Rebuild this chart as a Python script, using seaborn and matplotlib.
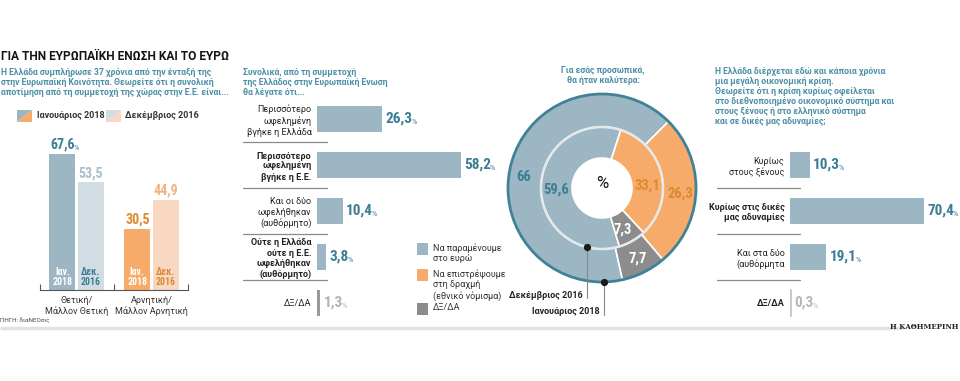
import numpy as np
import pandas as pd
import seaborn as sns
import matplotlib.pyplot as plt
from matplotlib import font_manager
from matplotlib.patches import Polygon, Rectangle, Circle

# ---- data ----
periods = ['Ιανουάριος 2018', 'Δεκέμβριος 2016']
eval_cats = ['Θετική/\nΜάλλον Θετική', 'Αρνητική/\nΜάλλον Αρνητική']
eval_jan = [67.6, 30.5]
eval_dec = [53.5, 44.9]

benefit_labels = ['Περισσότερο\nωφελημένη\nβγήκε η Ελλάδα',
                  'Περισσότερο\nωφελημένη\nβγήκε η Ε.Ε.',
                  'Και οι δύο\nωφελήθηκαν\n(αυθόρμητο)',
                  'Ούτε η Ελλάδα\nούτε η Ε.Ε.\nωφελήθηκαν\n(αυθόρμητο)',
                  'ΔΞ/ΔΑ']
benefit_vals = [26.3, 58.2, 10.4, 3.8, 1.3]
benefit_bold = [False, True, False, True, False]

donut_labels = ['Να παραμένουμε\nστο ευρώ', 'Να επιστρέψουμε\nστη δραχμή\n(εθνικό νόμισμα)', 'ΔΞ/ΔΑ']
donut_jan = [66, 26.3, 7.7]    # outer ring
donut_dec = [59.6, 33.1, 7.3]  # inner ring

crisis_labels = ['Κυρίως\nστους ξένους', 'Κυρίως στις δικές\nμας αδυναμίες',
                 'Και στα δύο\n(αυθόρμητα', 'ΔΞ/ΔΑ']
crisis_vals = [10.3, 70.4, 19.1, 0.3]
crisis_bold = [False, True, False, True]

# ---- style ----
BLUE = '#9db6c4'
BLUE_L = '#d2dce3'
ORANGE = '#f7ab6a'
ORANGE_L = '#f8d8c2'
GRAY = '#8c8c8c'
TEAL = '#3b7e94'
TEAL_T = '#4a8fa6'
ORANGE_T = '#dc8a2e'

sns.set_theme(style='white')
BODY = 'Roboto'
plt.rcParams['font.family'] = [BODY, 'DejaVu Sans']

# pick a narrow face for the numbers if one is installed
fonts = font_manager.fontManager.ttflist
names = {f.name for f in fonts}
if 'Roboto Condensed' in names:
    NUM = dict(family='Roboto Condensed')
elif 'Liberation Sans Narrow' in names:
    NUM = dict(family='Liberation Sans Narrow')
elif any(f.name == 'DejaVu Sans' and 'condensed' in str(f.stretch) for f in fonts):
    NUM = dict(family='DejaVu Sans', fontstretch='condensed')
else:
    NUM = dict(family='Roboto')

W, H = 960, 381
fig = plt.figure(figsize=(W / 100, H / 100), dpi=100)


def px_axes(x0, y0, x1, y1):
    return fig.add_axes([x0 / W, 1 - y1 / H, (x1 - x0) / W, (y1 - y0) / H])


def fmt(v):
    return f'{v:g}'.replace('.', ',')


def add_pct(ax, t, color, size=6):
    ax.annotate('%', xy=(1, 0), xycoords=t, xytext=(-0.8, 1.0), textcoords='offset points',
                ha='left', va='bottom', fontsize=size, color=color, **NUM)


# overlay for titles and decorations, in pixel coordinates
ov = fig.add_axes([0, 0, 1, 1])
ov.set_xlim(0, W)
ov.set_ylim(H, 0)
ov.axis('off')

# ---- panel 1: vertical bars ----
ov.text(1, 57, 'ΓΙΑ ΤΗΝ ΕΥΡΩΠΑΪΚΗ ΕΝΩΣΗ ΚΑΙ ΤΟ ΕΥΡΩ', fontsize=8.6, fontweight='bold',
        va='center', color='#151515')
ov.text(1, 68, 'Η Ελλάδα συμπλήρωσε 37 χρόνια από την ένταξή της\n'
               'στην Ευρωπαϊκή Κοινότητα. Θεωρείτε ότι η συνολική\n'
               'αποτίμηση από τη συμμετοχή της χώρας στην Ε.Ε. είναι...',
        fontsize=6.2, fontweight='bold', va='top', color=TEAL_T, linespacing=1.15)

ov.add_patch(Polygon([(17, 110), (32, 110), (17, 122)], color=BLUE, lw=0))
ov.add_patch(Polygon([(32, 110), (32, 122), (17, 122)], color=ORANGE, lw=0))
ov.text(37, 116, periods[0], fontsize=6.5, fontweight='bold', va='center', color='#333')
ov.add_patch(Polygon([(106, 110), (121, 110), (106, 122)], color=BLUE_L, lw=0))
ov.add_patch(Polygon([(121, 110), (121, 122), (106, 122)], color=ORANGE_L, lw=0))
ov.text(125, 116, periods[1], fontsize=6.5, fontweight='bold', va='center', color='#333')

df1 = pd.DataFrame({'cat': eval_cats * 2,
                    'period': [periods[0]] * 2 + [periods[1]] * 2,
                    'value': eval_jan + eval_dec})
ax1 = px_axes(36, 140, 192, 290)
sns.barplot(data=df1, x='cat', y='value', hue='period', order=eval_cats, hue_order=periods,
            width=0.76, gap=0.08, legend=False, ax=ax1, linewidth=0)
bar_cols = [[BLUE, ORANGE], [BLUE_L, ORANGE_L]]
val_cols = [[TEAL, ORANGE_T], ['#a9bfcb', '#f2b27b']]
in_cols = [['white', 'white'], [TEAL, ORANGE_T]]
in_text = ['Ιαν.\n2018', 'Δεκ.\n2016']
for i, cont in enumerate(ax1.containers):
    for j, bar in enumerate(cont):
        bar.set_facecolor(bar_cols[i][j])
        x = bar.get_x() + bar.get_width() / 2
        h = bar.get_height()
        t = ax1.annotate(fmt(h), (x, h), xytext=(0, 1.5), textcoords='offset points',
                         ha='center', va='bottom', fontsize=10, fontweight='bold',
                         color=val_cols[i][j], **NUM)
        if i == 0 and j == 0:
            add_pct(ax1, t, val_cols[i][j])
        ax1.annotate(in_text[i], (x, 0), xytext=(0, 2), textcoords='offset points',
                     ha='center', va='bottom', fontsize=7, fontweight='bold',
                     color=in_cols[i][j], linespacing=1.0, **NUM)
ax1.set_xlim(-0.54, 1.54)
ax1.set_ylim(0, 74.6)
ax1.set_xlabel('')
ax1.set_ylabel('')
ax1.set_yticks([])
ax1.set_xticks([0, 1])
ax1.set_xticklabels(eval_cats, fontsize=6.5, color='#333', linespacing=1.2)
ax1.set_xticks([-0.487, 0.5, 1.487], minor=True)
ax1.tick_params(axis='x', which='major', length=0, pad=4)
ax1.tick_params(axis='x', which='minor', bottom=True, direction='in', length=4, width=0.8, color='#555')
for s in ['left', 'top', 'right']:
    ax1.spines[s].set_visible(False)
ax1.spines['bottom'].set_bounds(-0.487, 1.487)
ax1.spines['bottom'].set_color('#555')
ax1.spines['bottom'].set_linewidth(0.8)
ax1.patch.set_alpha(0)

ov.text(0, 320, 'ΠΗΓΗ: διαΝΕΟσις', fontsize=4.5, va='center', color='#444')

# ---- panel 2: horizontal bars ----
ov.text(243, 68, 'Συνολικά, από τη συμμετοχή\nτης Ελλάδος στην Ευρωπαϊκή Ενωση\nθα λέγατε ότι...',
        fontsize=6.2, fontweight='bold', va='top', color=TEAL_T, linespacing=1.15)


def hbars(ax, labels, vals, bold, cols, txt_cols, xmax, nrows, sep):
    sns.barplot(x=vals, y=labels, hue=labels, palette=cols, legend=False, orient='h',
                width=0.565, ax=ax, saturation=1, linewidth=0)
    for bar, v, tc in zip(ax.patches, vals, txt_cols):
        y = bar.get_y() + bar.get_height() / 2
        t = ax.annotate(fmt(v), (bar.get_width(), y), xytext=(2.5, 0), textcoords='offset points',
                        ha='left', va='center', fontsize=11, fontweight='bold', color=tc, **NUM)
        add_pct(ax, t, tc)
    ax.set_xlim(0, xmax)
    ax.set_ylim(nrows - 0.5, -0.5)
    ax.set_xticks([])
    ax.set_yticks(range(nrows))
    ax.set_yticklabels(labels, fontsize=6.5, color='#222', linespacing=1.2)
    for lab, b in zip(ax.get_yticklabels(), bold):
        if b:
            lab.set_fontweight('bold')
    ax.tick_params(axis='y', length=0, pad=4)
    ax.set_xlabel('')
    ax.set_ylabel('')
    for s in ax.spines.values():
        s.set_visible(False)
    ax.patch.set_alpha(0)
    for k in range(sep, nrows):
        ax.axhline(k - 0.5, xmin=-0.43, xmax=0.058, color='#8a8a8a', lw=0.9, clip_on=False)


ax2 = px_axes(317, 96, 490, 326)
hbars(ax2, benefit_labels, benefit_vals, benefit_bold,
      [BLUE] * 4 + ['#9a9a9a'], [TEAL] * 4 + ['#b3b3b3'], 173 / 2.47, 5, 1)

# legend of the donut
leg_cols = [BLUE, ORANGE, GRAY]
leg_y = [243, 269, 303]
for c, y, lab in zip(leg_cols, leg_y, donut_labels):
    ov.add_patch(Rectangle((417, y), 11, 12, color=c, lw=0))
    ov.text(433, y, lab, fontsize=6.5, va='top', color='#333', linespacing=1.2)

# ---- panel 3: donut ----
ov.text(603, 66, 'Για εσάς προσωπικά,\nθα ήταν καλύτερα:', fontsize=6.2, fontweight='bold',
        ha='center', va='top', color=TEAL_T, linespacing=1.15)
ax3 = px_axes(502, 88, 702, 288)
pie_cols = [BLUE, ORANGE, GRAY]
w_out, _ = ax3.pie(donut_jan, radius=0.94, startangle=282.6, counterclock=False, colors=pie_cols,
                   wedgeprops=dict(width=0.33, edgecolor='white', linewidth=1.2))
w_in, _ = ax3.pie(donut_dec, radius=0.61, startangle=286.6, counterclock=False, colors=pie_cols,
                  wedgeprops=dict(width=0.31, edgecolor='white', linewidth=1.2))
ax3.add_patch(Circle((0, 0), 0.61, fill=False, edgecolor='#e4e9ec', lw=1.8))
ax3.add_patch(Circle((0, 0), 0.94, fill=False, edgecolor='#3f8197', lw=2))
lab_cols = [TEAL, ORANGE_T, 'white']
for wedges, vals, r, nudge in [(w_out, donut_jan, 0.79, [8, -2, 0]), (w_in, donut_dec, 0.46, [3, -9, -3])]:
    for w, v, c, n in zip(wedges, vals, lab_cols, nudge):
        a = np.deg2rad((w.theta1 + w.theta2) / 2 + n)
        ax3.text(r * np.cos(a), r * np.sin(a), fmt(v), ha='center', va='center', fontsize=10.5,
                 fontweight='bold', color=c, **NUM)
ax3.text(0, 0.04, '%', ha='center', va='center', fontsize=12, color='#111')
# ring pointers
for ang, r, y_end, lab in [(-104, 0.61, -1.10, periods[1]), (-89, 0.94, -1.27, periods[0])]:
    a = np.deg2rad(ang)
    x, y = r * np.cos(a), r * np.sin(a)
    ax3.plot([x, x], [y, y_end], color='#888', lw=0.8, clip_on=False)
    ax3.plot(x, y, 'o', color='#1a1a1a', ms=4.2, clip_on=False)
    ax3.text(x - 0.04, y_end + 0.03, lab, ha='right', va='center', fontsize=6.5,
             fontweight='bold', color='#222')
ax3.set_xlim(-1, 1)
ax3.set_ylim(-1, 1)
ax3.axis('off')

# ---- panel 4: horizontal bars ----
ov.text(715, 67, 'Η Ελλάδα διέρχεται εδώ και κάποια χρόνια\n'
                 'μια μεγάλη οικονομική κρίση.\n'
                 'Θεωρείτε ότι η κρίση κυρίως οφείλεται\n'
                 'στο διεθνοποιημένο οικονομικό σύστημα και\n'
                 'στους ξένους ή στο ελληνικό σύστημα\n'
                 'και σε δικές μας αδυναμίες;',
        fontsize=6.2, fontweight='bold', va='top', color=TEAL_T, linespacing=1.15)
ax4 = px_axes(790, 142, 960, 326)
hbars(ax4, crisis_labels, crisis_vals, crisis_bold,
      [BLUE] * 3 + ['#c4c4c4'], [TEAL] * 3 + ['#b8b8b8'], 170 / 1.9, 4, 1)
ax4.patches[-1].set_edgecolor('#c4c4c4')
ax4.patches[-1].set_linewidth(1.2)

# ---- footer ----
ov.hlines(328, 0, 903, color='#e2e2e2', lw=2.5)
ov.text(958, 327, 'Η ΚΑΘΗΜΕΡΙΝΗ', ha='right', va='center', fontsize=5, fontweight='bold',
        family='DejaVu Serif', color='#222')

fig.savefig('out.png', dpi=100, facecolor='white')
